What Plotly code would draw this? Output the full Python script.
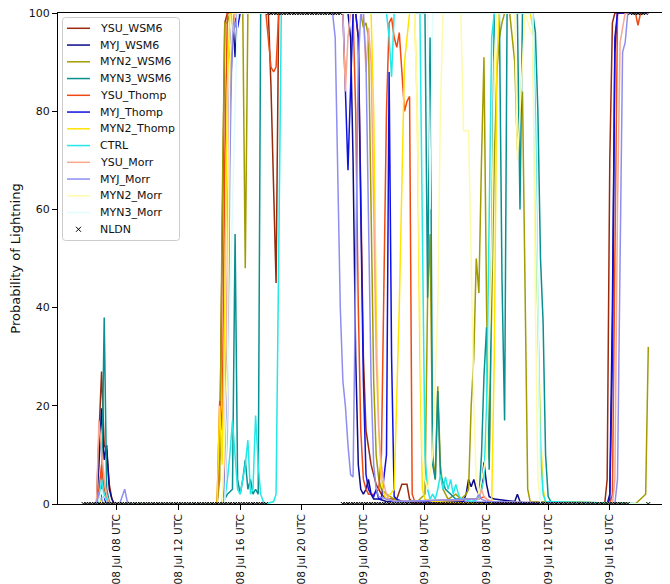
import pandas as pd
import plotly.graph_objects as go

BASE = pd.Timestamp("2015-07-08 00:00")

# ---- model series: hours since 08 Jul 00 UTC and probability values ----
ysu_wsm6_h = [5.83, 6.67, 6.83, 7.0, 7.17, 7.33, 7.5, 7.67, 7.83, 14.5, 14.67, 14.83, 15.0, 15.17, 17.67, 17.83, 18.0, 18.17, 18.33, 18.5, 23.5, 23.67, 23.83, 24.0, 24.17, 24.5, 24.83, 25.17, 25.5, 25.83, 26.17, 26.5, 26.83, 27.0, 27.33, 39.67, 39.83, 40.0, 40.17, 40.33, 42.5]
ysu_wsm6_v = [0, 0, 14, 27, 12, 11, 4, 1, 0, 0, 10, 60, 98, 100, 100, 100, 85, 65, 45, 100, 100, 95, 60, 30, 15, 8, 4, 2, 1, 1, 1, 4, 4, 1, 0, 0, 5, 70, 98, 100, 100]

myj_wsm6_h = [5.83, 6.67, 6.83, 7.0, 7.17, 7.33, 7.5, 7.67, 7.83, 14.83, 15.0, 15.17, 15.33, 15.5, 15.67, 15.83, 23.0, 23.17, 23.33, 23.5, 23.67, 23.83, 24.0, 24.17, 24.33, 24.5, 24.67, 25.0, 25.5, 30.5, 30.67, 30.83, 31.0, 31.17, 31.33, 31.5, 31.67, 31.83, 32.0, 32.17, 32.5, 33.83, 34.0, 34.17, 34.5, 39.83, 40.0, 40.17, 40.33, 40.5, 42.5]
myj_wsm6_v = [0, 0, 8, 19.5, 9, 12, 3, 1, 0, 0, 5, 40, 90, 100, 91, 100, 100, 95, 70, 30, 8, 3, 2, 3, 5, 2, 1, 1, 0.5, 0.5, 2, 5, 3.5, 5, 3, 2, 3, 8.5, 4, 1.5, 1, 0.5, 2, 0.5, 0, 0, 2, 40, 92, 100, 100]

myn2_wsm6_h = [5.83, 14.5, 14.67, 14.83, 15.0, 15.17, 15.33, 16.17, 16.33, 16.5, 23.83, 24.0, 24.17, 24.33, 24.5, 24.67, 24.83, 25.0, 25.17, 25.5, 26.0, 26.5, 27.5, 28.0, 28.17, 28.33, 28.5, 28.67, 28.83, 29.0, 29.17, 29.5, 30.0, 30.33, 30.67, 30.83, 31.0, 31.17, 31.33, 31.5, 31.67, 31.83, 32.0, 32.17, 32.33, 32.5, 32.67, 32.83, 33.0, 33.17, 33.5, 33.83, 34.0, 34.17, 34.33, 34.5, 34.67, 34.83, 41.67, 41.83, 42.0, 42.17, 42.33, 42.5]
myn2_wsm6_v = [0, 0, 5, 60, 98, 98, 100, 100, 48, 100, 100, 97, 98, 95, 60, 25, 10, 5, 3, 2, 1, 0.5, 0.5, 2, 42, 55, 10, 5, 24, 8, 3, 1, 2, 1, 2, 3, 20, 30, 50, 43, 70, 91, 40, 9, 40, 70, 88, 95, 98, 100, 100, 90, 72, 80, 84, 40, 3, 0.5, 0, 0.5, 1, 1.5, 2, 32]

myn3_wsm6_h = [5.83, 6.83, 7.0, 7.17, 7.33, 7.5, 7.67, 14.83, 15.0, 15.17, 15.5, 15.67, 15.83, 16.0, 16.17, 16.33, 16.5, 16.67, 16.83, 17.0, 17.17, 17.33, 27.83, 28.0, 28.17, 28.33, 28.5, 28.67, 28.83, 29.0, 29.33, 29.67, 30.0, 31.5, 31.67, 31.83, 32.0, 32.17, 32.33, 32.5, 32.83, 33.0, 33.17, 33.33, 33.5, 34.0, 34.17, 34.33, 34.67, 35.0, 35.17, 35.33, 35.5, 35.67, 35.83, 36.0, 36.17, 42.5]
myn3_wsm6_v = [0, 0, 1, 38, 3, 0.5, 0, 0, 1, 2, 3, 55, 5, 2, 5, 9, 3, 5, 2, 3, 2, 100, 100, 100, 42, 95, 8, 5, 23, 6, 3, 2, 1, 1, 10, 26, 36, 7, 60, 100, 100, 46, 17, 100, 100, 100, 60, 100, 100, 100, 96, 80, 50, 37, 10, 1.5, 0.5, 0]

ysu_thomp_h = [5.83, 6.67, 6.83, 7.0, 7.17, 7.33, 7.5, 14.5, 14.67, 14.83, 15.0, 15.17, 17.67, 17.83, 18.0, 18.17, 18.33, 18.5, 23.33, 23.5, 23.67, 23.83, 24.0, 24.17, 24.33, 24.67, 25.0, 25.17, 25.33, 25.5, 25.67, 25.83, 26.0, 26.17, 26.33, 26.5, 26.67, 26.83, 27.0, 27.17, 27.33, 31.5, 31.83, 32.17, 32.5, 40.0, 40.17, 40.33, 40.5, 41.67, 41.83, 42.0, 42.5]
ysu_thomp_v = [0, 0, 3, 8, 3, 1, 0, 0, 21, 15, 70, 100, 100, 95, 89, 88, 89, 100, 100, 80, 40, 15, 5, 3, 2, 2, 3, 10, 40, 80, 98, 99, 95, 93, 96, 88, 80, 82, 83, 2, 0.5, 1, 1.5, 0.5, 0, 0, 2, 50, 100, 100, 97.5, 100, 100]

myj_thomp_h = [5.83, 6.83, 7.0, 7.17, 7.33, 14.83, 15.0, 15.17, 15.33, 15.5, 15.67, 15.83, 16.0, 22.67, 22.83, 23.0, 23.17, 23.33, 23.5, 23.67, 23.83, 24.0, 24.17, 24.33, 24.5, 24.67, 24.83, 25.0, 25.17, 25.5, 25.67, 25.83, 26.0, 26.17, 26.5, 39.83, 40.0, 40.17, 40.33, 40.5, 42.5]
myj_thomp_v = [0, 0, 2, 1, 0, 0, 3, 30, 80, 95, 99, 97, 100, 100, 85, 68, 85, 100, 100, 95, 60, 25, 6, 3, 2, 1.5, 3, 1, 1, 10, 88, 30, 1.5, 1, 0.5, 0, 1, 30, 95, 100, 100]

myn2_thomp_h = [5.83, 6.83, 7.0, 7.17, 14.5, 14.67, 14.83, 15.0, 15.17, 15.33, 24.5, 24.67, 24.83, 25.0, 25.17, 25.33, 25.5, 26.0, 26.33, 26.67, 27.0, 27.33, 27.5, 27.67, 27.83, 28.0, 28.5, 32.33, 32.5, 32.67, 32.83, 34.83, 35.0, 35.17, 35.33, 35.5, 35.67, 35.83, 42.5]
myn2_thomp_v = [0, 0, 1, 0, 0, 20, 8, 40, 85, 100, 100, 80, 40, 15, 5, 2, 1, 3, 40, 90, 100, 100, 80, 30, 3, 1, 0.5, 0, 30, 90, 100, 100, 97, 60, 38, 15, 3, 0.5, 0]

ctrl_h = [5.83, 6.83, 7.0, 7.17, 7.33, 7.5, 14.83, 15.0, 15.17, 15.33, 15.5, 15.67, 15.83, 16.0, 16.17, 16.33, 16.5, 16.67, 16.83, 17.0, 17.17, 17.33, 17.5, 17.67, 18.17, 18.33, 18.5, 18.67, 25.5, 25.67, 25.83, 26.0, 27.67, 27.83, 28.0, 28.17, 28.33, 28.5, 28.67, 28.83, 29.0, 29.17, 29.33, 29.5, 29.67, 29.83, 30.0, 30.17, 30.33, 30.5, 31.0, 31.5, 31.83, 32.0, 32.17, 32.33, 32.5, 35.0, 35.17, 35.33, 35.5, 35.67, 35.83, 42.5]
ctrl_v = [0, 0, 5, 2, 1, 0, 0, 1, 5, 10, 17, 10, 3, 2, 5, 8, 13, 2, 3, 18, 8, 2, 0.5, 0, 0.5, 2, 50, 100, 100, 95, 87, 100, 100, 60, 10, 3, 1, 2, 1, 3, 6, 3, 5.5, 3, 5, 2, 4, 2, 1, 1, 0.5, 1, 5, 20, 60, 95, 100, 100, 80, 38, 10, 2, 0.5, 0]

ysu_morr_h = [5.83, 6.67, 6.83, 7.0, 7.17, 7.33, 7.5, 14.83, 15.0, 15.17, 15.33, 15.5, 15.67, 22.67, 22.83, 23.0, 23.17, 24.0, 24.17, 24.33, 24.5, 24.67, 24.83, 25.0, 25.17, 25.33, 25.5, 25.67, 26.0, 31.5, 31.67, 31.83, 32.0, 32.33, 40.17, 40.33, 40.5, 40.67, 40.83, 41.0, 42.5]
ysu_morr_v = [0, 0, 17, 10, 5, 2, 0, 0, 10, 50, 90, 95, 100, 100, 84, 95, 100, 100, 88, 97, 90, 60, 30, 15, 8, 4, 2, 1, 0.5, 1, 3, 1.5, 1, 0.5, 0, 5, 60, 94, 97, 100, 100]

myj_morr_h = [5.83, 6.67, 6.83, 7.0, 7.17, 8.17, 8.33, 8.5, 8.67, 8.83, 14.83, 15.0, 15.17, 15.33, 15.5, 15.67, 15.83, 22.0, 22.17, 22.33, 22.5, 22.67, 22.83, 23.0, 23.17, 23.33, 23.5, 23.67, 23.83, 24.0, 24.17, 24.33, 24.5, 24.67, 24.83, 25.0, 25.5, 26.0, 31.33, 31.5, 31.67, 32.0, 40.33, 40.5, 40.67, 40.83, 41.0, 41.17, 42.5]
myj_morr_v = [0, 0, 2.5, 1, 0, 0, 1.5, 3, 0.5, 0, 0, 2, 15, 70, 99, 97, 100, 100, 95, 70, 40, 25, 20, 12, 6, 5.5, 50, 90, 100, 100, 90, 60, 25, 8, 3, 1.5, 1, 0.5, 1, 2, 1, 0.5, 0, 5, 50, 92, 94, 100, 100]

myn2_morr_h = [5.83, 14.83, 15.17, 15.33, 15.5, 27.33, 27.5, 27.67, 27.83, 28.0, 28.17, 28.5, 28.83, 29.0, 29.17, 30.17, 30.33, 30.5, 30.67, 30.83, 31.0, 31.17, 31.33, 31.5, 32.0, 32.33, 32.5, 32.67, 33.83, 34.0, 34.17, 34.5, 35.0, 35.17, 35.33, 35.5, 42.5]
myn2_morr_v = [0, 0, 30, 90, 100, 100, 80, 40, 10, 5, 3, 10, 40, 80, 100, 100, 100, 76, 76, 76, 50, 20, 5, 2, 10, 50, 90, 100, 100, 70, 80, 100, 95, 40, 5, 0, 0]

myn3_morr_h = [5.83, 6.83, 7.0, 7.17, 15.0, 15.5, 15.83, 28.17, 28.33, 28.5, 35.0, 35.33, 35.5, 42.5]
myn3_morr_v = [0, 0, 3, 0, 0, 60, 100, 100, 60, 100, 100, 40, 0, 0]

# ---- NLDN observations every 10 min from 08 Jul 05:50 to 09 Jul 18:30 UTC ----
nldn_start = "2015-07-08 05:50"
nldn_v = [
    0, 0, 0, 0, 0, 0, 0, 0, 0, 0, 0, 0,
    0, 0, 0, 0, 0, 0, 0, 0, 0, 0, 0, 0,
    0, 0, 0, 0, 0, 0, 0, 0, 0, 0, 0, 0,
    0, 0, 0, 0, 0, 0, 0, 0, 0, 0, 0, 0,
    0, 0, 0, 0, 0, 0, 0, 0, 0, 0, 0, 0,
    0, 0, 0, 0, 0, 0, 0, 0, 0, 0, 0, 0,
    100, 100, 100, 100, 100, 100, 100, 100, 100, 100, 100, 100,
    100, 100, 100, 100, 100, 100, 100, 100, 100, 100, 100, 100,
    100, 100, 100, 100, 100,
    0, 0, 0, 0, 0, 0, 0, 0, 0, 0, 0, 0,
    0, 0, 0, 0, 0, 0, 0, 0, 0, 0, 0, 0,
    0, 0, 0, 0, 0, 0, 0, 0, 0, 0, 0, 0,
    0, 0, 0, 0, 0, 0, 0, 0, 0, 0, 0, 0,
    0, 0, 0, 0, 0, 0, 0, 0, 0, 0, 0, 0,
    0, 0, 0, 0, 0, 0, 0, 0, 0, 0, 0, 0,
    0, 0, 0, 0, 0, 0, 0, 0, 0, 0, 0, 0,
    0, 0, 0, 0, 0, 0, 0, 0, 0, 0, 0, 0,
    0, 0, 0, 0, 0, 0, 0, 0, 0, 0, 0, 0,
    0, 0, 0, 0,
    100, 100, 100, 100, 100, 100, 100,
    0,
]

series = [
    ("YSU_WSM6", ysu_wsm6_h, ysu_wsm6_v, "#9a2a0c"),
    ("MYJ_WSM6", myj_wsm6_h, myj_wsm6_v, "#0a0a8a"),
    ("MYN2_WSM6", myn2_wsm6_h, myn2_wsm6_v, "#a29c00"),
    ("MYN3_WSM6", myn3_wsm6_h, myn3_wsm6_v, "#0a9090"),
    ("YSU_Thomp", ysu_thomp_h, ysu_thomp_v, "#f04a14"),
    ("MYJ_Thomp", myj_thomp_h, myj_thomp_v, "#1010e0"),
    ("MYN2_Thomp", myn2_thomp_h, myn2_thomp_v, "#ffe400"),
    ("CTRL", ctrl_h, ctrl_v, "#22e8e8"),
    ("YSU_Morr", ysu_morr_h, ysu_morr_v, "#f8a890"),
    ("MYJ_Morr", myj_morr_h, myj_morr_v, "#8e8ef2"),
    ("MYN2_Morr", myn2_morr_h, myn2_morr_v, "#fffaa8"),
    ("MYN3_Morr", myn3_morr_h, myn3_morr_v, "#e0fcfc"),
]


def to_time(hours):
    return [BASE + pd.Timedelta(hours=h) for h in hours]


fig = go.Figure()
for name, hh, vv, col in series:
    fig.add_trace(go.Scatter(x=to_time(hh), y=vv, mode="lines", name=name,
                             showlegend=False,
                             line=dict(color=col, width=1.5)))

nldn_t = pd.date_range(nldn_start, periods=len(nldn_v), freq="10min")
fig.add_trace(go.Scatter(x=nldn_t, y=nldn_v, mode="markers", name="NLDN",
                         showlegend=False,
                         marker=dict(symbol="x-thin", size=4, color="black",
                                     line=dict(width=1, color="black"))))

# ---- legend drawn in paper coordinates (plot area: 612 x 491 px) ----
PW, PH = 612.0, 491.0


def px(x):  # offset from plot-area left, in px -> paper
    return x / PW


def py(y):  # offset from plot-area top, in px -> paper
    return 1 - y / PH


shapes = []
annotations = []
bx0, bx1, by0, by1, r = 4.5, 121.5, 4.5, 227.5, 3.0
path = (f"M {px(bx0 + r)},{py(by0)} L {px(bx1 - r)},{py(by0)} "
        f"Q {px(bx1)},{py(by0)} {px(bx1)},{py(by0 + r)} "
        f"L {px(bx1)},{py(by1 - r)} Q {px(bx1)},{py(by1)} {px(bx1 - r)},{py(by1)} "
        f"L {px(bx0 + r)},{py(by1)} Q {px(bx0)},{py(by1)} {px(bx0)},{py(by1 - r)} "
        f"L {px(bx0)},{py(by0 + r)} Q {px(bx0)},{py(by0)} {px(bx0 + r)},{py(by0)} Z")
shapes.append(dict(type="path", xref="paper", yref="paper", path=path,
                   fillcolor="rgba(255,255,255,0.85)",
                   line=dict(color="#cccccc", width=1), layer="above"))
labels = [s[0] for s in series] + ["NLDN"]
for k, lab in enumerate(labels):
    yk = 15.3 + 16.75 * k
    if k < len(series):
        shapes.append(dict(type="line", xref="paper", yref="paper",
                           x0=px(9), x1=px(32), y0=py(yk), y1=py(yk),
                           line=dict(color=series[k][3], width=1.5), layer="above"))
    else:
        for a, b in ((-2.5, 2.5), (2.5, -2.5)):
            shapes.append(dict(type="line", xref="paper", yref="paper",
                               x0=px(20.5 - 2.5), x1=px(20.5 + 2.5),
                               y0=py(yk + a), y1=py(yk + b),
                               line=dict(color="black", width=1), layer="above"))
    annotations.append(dict(xref="paper", yref="paper", x=px(40), y=py(yk),
                            xanchor="left", yanchor="middle", showarrow=False,
                            text=lab, font=dict(family="DejaVu Sans", size=11,
                                                color="#111111")))

fig.update_layout(
    width=662, height=576,
    margin=dict(l=50, r=0, t=5, b=80),
    paper_bgcolor="white", plot_bgcolor="white",
    font=dict(family="DejaVu Sans", size=11, color="#111111"),
    showlegend=False,
    shapes=shapes,
    annotations=annotations,
    xaxis=dict(
        type="date",
        range=[BASE + pd.Timedelta(hours=4.17), BASE + pd.Timedelta(hours=43.91)],
        tick0=BASE, dtick=4 * 3600 * 1000, tickformat="%d %b %H UTC",
        tickangle=-90, ticks="outside", ticklen=5, tickcolor="black",
        tickfont=dict(family="DejaVu Sans", size=10.5, color="#111111"),
        showline=True, linecolor="black", linewidth=1, mirror=True,
        showgrid=False, zeroline=False, automargin=False,
        ticklabeloverflow="allow",
    ),
    yaxis=dict(
        range=[0, 100], tickvals=[0, 20, 40, 60, 80, 100],
        ticks="outside", ticklen=5, tickcolor="black",
        showline=True, linecolor="black", linewidth=1, mirror=False,
        showgrid=False, zeroline=False, automargin=False,
        ticklabeloverflow="allow",
        title=dict(text="Probability of Lightning", standoff=6),
    ),
)

fig.write_html("out.html")
